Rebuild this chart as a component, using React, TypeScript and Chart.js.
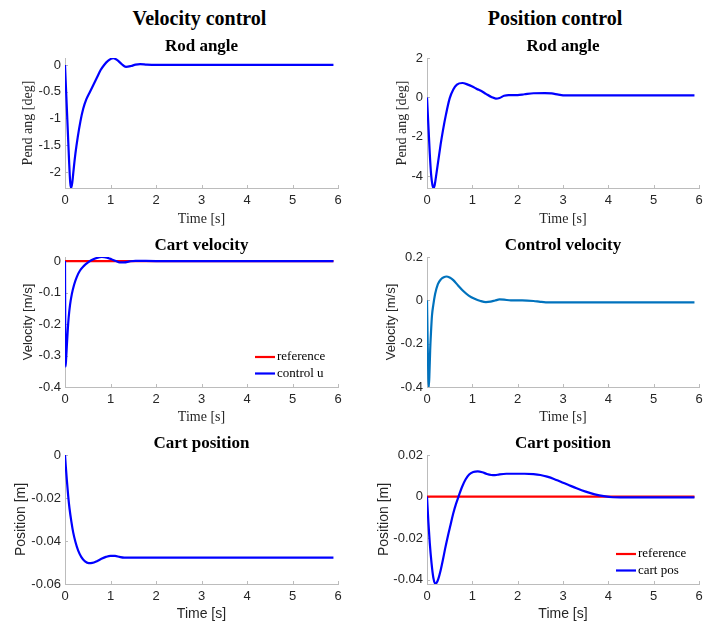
import React, { useEffect, useRef } from 'react';
import { Chart, registerables } from 'chart.js';

Chart.register(...registerables);

// ---------- data ----------
const X_TICKS = [0, 1, 2, 3, 4, 5, 6];
const X_TICK_LABELS = ['0', '1', '2', '3', '4', '5', '6'];

const REF_T = [0, 5.9];
const REF_Y = [0, 0];

// Velocity control - Rod angle [deg]
const rodVelT = [0, 0.03, 0.06, 0.09, 0.115, 0.135, 0.16, 0.19, 0.23, 0.28, 0.34, 0.40, 0.47, 0.55, 0.62, 0.70, 0.78, 0.86, 0.95, 1.06, 1.15, 1.24, 1.34, 1.45, 1.55, 1.65, 1.8, 2.0, 3.0, 4.0, 5.0, 5.9];
const rodVelY = [0, -0.6, -1.2, -1.8, -2.2, -2.3, -2.2, -1.95, -1.65, -1.35, -1.05, -0.82, -0.64, -0.5, -0.38, -0.24, -0.1, 0.0, 0.08, 0.125, 0.09, 0.02, -0.035, -0.02, 0.005, 0.015, 0.005, 0, 0, 0, 0, 0];
const rodVelTicks = [0, -0.5, -1, -1.5, -2];
const rodVelTickLabels = ['0', '-0.5', '-1', '-1.5', '-2'];

// Position control - Rod angle [deg]
const rodPosT = [0, 0.03, 0.06, 0.09, 0.12, 0.145, 0.17, 0.2, 0.25, 0.3, 0.35, 0.42, 0.5, 0.58, 0.66, 0.78, 0.9, 1.0, 1.1, 1.2, 1.3, 1.42, 1.52, 1.6, 1.7, 1.8, 2.0, 2.15, 2.35, 2.6, 2.75, 2.9, 3.05, 3.5, 4.0, 5.0, 5.9];
const rodPosY = [0, -1.4, -2.8, -3.9, -4.45, -4.6, -4.45, -4.0, -3.2, -2.4, -1.7, -0.85, -0.05, 0.4, 0.65, 0.73, 0.65, 0.55, 0.43, 0.32, 0.18, 0.02, -0.06, -0.03, 0.08, 0.12, 0.12, 0.16, 0.21, 0.22, 0.2, 0.14, 0.1, 0.1, 0.1, 0.1, 0.1];
const rodPosTicks = [2, 0, -2, -4];
const rodPosTickLabels = ['2', '0', '-2', '-4'];

// Velocity control - Cart velocity (control u) [m/s]
const cartVelT = [0, 0.005, 0.012, 0.025, 0.04, 0.06, 0.08, 0.11, 0.15, 0.2, 0.26, 0.33, 0.41, 0.5, 0.6, 0.7, 0.81, 0.92, 1.02, 1.12, 1.2, 1.3, 1.42, 1.55, 2.0, 3.0, 4.0, 5.0, 5.9];
const cartVelY = [0, -0.2, -0.335, -0.31, -0.27, -0.22, -0.18, -0.14, -0.105, -0.075, -0.05, -0.03, -0.016, -0.005, 0.004, 0.01, 0.013, 0.011, 0.006, 0.0, -0.004, -0.004, -0.001, 0.001, 0, 0, 0, 0, 0];
const cartVelTicks = [0, -0.1, -0.2, -0.3, -0.4];
const cartVelTickLabels = ['0', '-0.1', '-0.2', '-0.3', '-0.4'];

// Position control - Control velocity [m/s]
const ctrlVelT = [0, 0.015, 0.03, 0.04, 0.055, 0.07, 0.09, 0.11, 0.14, 0.18, 0.24, 0.31, 0.37, 0.43, 0.5, 0.58, 0.68, 0.8, 0.92, 1.05, 1.18, 1.3, 1.4, 1.5, 1.6, 1.7, 1.85, 2.1, 2.35, 2.5, 2.62, 2.8, 3.5, 4.5, 5.9];
const ctrlVelY = [0, -0.2, -0.36, -0.4, -0.33, -0.23, -0.14, -0.07, -0.02, 0.03, 0.075, 0.098, 0.107, 0.11, 0.105, 0.093, 0.07, 0.043, 0.022, 0.007, -0.003, -0.008, -0.006, -0.001, 0.004, 0.003, 0.0, 0.0, -0.003, -0.007, -0.009, -0.009, -0.009, -0.009, -0.009];
const ctrlVelTicks = [0.2, 0, -0.2, -0.4];
const ctrlVelTickLabels = ['0.2', '0', '-0.2', '-0.4'];

// Velocity control - Cart position [m]
const cartPosVT = [0, 0.02, 0.04, 0.07, 0.1, 0.14, 0.18, 0.23, 0.29, 0.36, 0.44, 0.52, 0.6, 0.7, 0.8, 0.9, 1.0, 1.1, 1.2, 1.3, 1.45, 2.0, 3.0, 4.0, 5.0, 5.9];
const cartPosVY = [0, -0.006, -0.0115, -0.019, -0.025, -0.031, -0.036, -0.0405, -0.0445, -0.0475, -0.0495, -0.0503, -0.0502, -0.0494, -0.0483, -0.0474, -0.0469, -0.0469, -0.0474, -0.0477, -0.0477, -0.0477, -0.0477, -0.0477, -0.0477, -0.0477];
const cartPosVTicks = [0, -0.02, -0.04, -0.06];
const cartPosVTickLabels = ['0', '-0.02', '-0.04', '-0.06'];

// Position control - Cart position [m]
const cartPosPT = [0, 0.03, 0.06, 0.1, 0.14, 0.18, 0.21, 0.25, 0.3, 0.35, 0.4, 0.46, 0.52, 0.58, 0.64, 0.7, 0.77, 0.85, 0.93, 1.02, 1.12, 1.22, 1.32, 1.42, 1.5, 1.6, 1.75, 1.95, 2.15, 2.35, 2.5, 2.65, 2.8, 2.95, 3.1, 3.3, 3.5, 3.7, 3.9, 4.1, 4.5, 5.0, 5.9];
const cartPosPY = [0, -0.012, -0.022, -0.032, -0.039, -0.0418, -0.0415, -0.0395, -0.0355, -0.0305, -0.025, -0.019, -0.0135, -0.008, -0.0035, 0.0003, 0.0045, 0.0082, 0.0106, 0.0118, 0.0121, 0.0117, 0.0109, 0.0104, 0.0103, 0.0107, 0.011, 0.011, 0.011, 0.0108, 0.0104, 0.0096, 0.0085, 0.0071, 0.0058, 0.004, 0.0024, 0.0011, 0.0002, -0.0003, -0.0004, -0.0004, -0.0004];
const cartPosPTicks = [0.02, 0, -0.02, -0.04];
const cartPosPTickLabels = ['0.02', '0', '-0.02', '-0.04'];

// ---------- styles ----------
const SERIF = '"Liberation Serif", "Times New Roman", serif';
const SANS = '"Liberation Sans", Arial, sans-serif';
const AXIS = '#bcbcbc';
const TXT = '#262626';
const BLUE = '#0000ff';
const RED = '#ff0000';
const MBLUE = '#0072bd';

type Series = { label: string; t: number[]; y: number[]; color: string; order: number };
type PanelSpec = {
  box: { x: number; y: number; w: number; h: number };
  area: { l: number; t: number; r: number; b: number };
  yMin: number; yMax: number; yTicks: number[]; yTickLabels: string[];
  title: string;
  xTitle: string; xFamily: string; xSize: number; xCenter: number;
  yTitle: string; yFamily: string; ySize: number; yCenter: number;
  series: Series[]; legend: boolean;
};

const COL1 = { x: 0, w: 358, l: 65, r: 338 };
const COL2 = { x: 358, w: 358, l: 427, r: 699 };
const ROW1 = { y: 30, h: 200, t: 58, b: 188, xc: 219 };
const ROW2 = { y: 230, h: 198, t: 257, b: 387, xc: 417 };
const ROW3 = { y: 428, h: 195, t: 455, b: 584, xc: 614 };

function mk(col: any, row: any) {
  return {
    box: { x: col.x, y: row.y, w: col.w, h: row.h },
    area: { l: col.l, t: row.t, r: col.r, b: row.b },
    xCenter: row.xc,
  };
}

const PANELS: PanelSpec[] = [
  {
    ...mk(COL1, ROW1), yMin: -2.3, yMax: 0.13, yTicks: rodVelTicks, yTickLabels: rodVelTickLabels,
    title: 'Rod angle', xTitle: 'Time [s]', xFamily: SERIF, xSize: 14,
    yTitle: 'Pend ang [deg]', yFamily: SERIF, ySize: 14, yCenter: 28,
    series: [{ label: 'rod', t: rodVelT, y: rodVelY, color: BLUE, order: 1 }], legend: false,
  },
  {
    ...mk(COL2, ROW1), yMin: -4.6, yMax: 2, yTicks: rodPosTicks, yTickLabels: rodPosTickLabels,
    title: 'Rod angle', xTitle: 'Time [s]', xFamily: SERIF, xSize: 14,
    yTitle: 'Pend ang [deg]', yFamily: SERIF, ySize: 14, yCenter: 402,
    series: [{ label: 'rod', t: rodPosT, y: rodPosY, color: BLUE, order: 1 }], legend: false,
  },
  {
    ...mk(COL1, ROW2), yMin: -0.4, yMax: 0.013, yTicks: cartVelTicks, yTickLabels: cartVelTickLabels,
    title: 'Cart velocity', xTitle: 'Time [s]', xFamily: SERIF, xSize: 14,
    yTitle: 'Velocity [m/s]', yFamily: SANS, ySize: 13, yCenter: 28,
    series: [
      { label: 'reference', t: REF_T, y: REF_Y, color: RED, order: 2 },
      { label: 'control u', t: cartVelT, y: cartVelY, color: BLUE, order: 1 },
    ], legend: true,
  },
  {
    ...mk(COL2, ROW2), yMin: -0.4, yMax: 0.2, yTicks: ctrlVelTicks, yTickLabels: ctrlVelTickLabels,
    title: 'Control velocity', xTitle: 'Time [s]', xFamily: SERIF, xSize: 14,
    yTitle: 'Velocity [m/s]', yFamily: SANS, ySize: 13, yCenter: 391,
    series: [{ label: 'control', t: ctrlVelT, y: ctrlVelY, color: MBLUE, order: 1 }], legend: false,
  },
  {
    ...mk(COL1, ROW3), yMin: -0.06, yMax: 0, yTicks: cartPosVTicks, yTickLabels: cartPosVTickLabels,
    title: 'Cart position', xTitle: 'Time [s]', xFamily: SANS, xSize: 14,
    yTitle: 'Position [m]', yFamily: SANS, ySize: 14, yCenter: 21,
    series: [{ label: 'cart pos', t: cartPosVT, y: cartPosVY, color: BLUE, order: 1 }], legend: false,
  },
  {
    ...mk(COL2, ROW3), yMin: -0.042, yMax: 0.02, yTicks: cartPosPTicks, yTickLabels: cartPosPTickLabels,
    title: 'Cart position', xTitle: 'Time [s]', xFamily: SANS, xSize: 14,
    yTitle: 'Position [m]', yFamily: SANS, ySize: 14, yCenter: 384,
    series: [
      { label: 'reference', t: REF_T, y: REF_Y, color: RED, order: 2 },
      { label: 'cart pos', t: cartPosPT, y: cartPosPY, color: BLUE, order: 1 },
    ], legend: true,
  },
];

// ---------- plugins ----------
const inwardTicks = {
  id: 'inwardTicks',
  beforeDatasetsDraw(chart: any) {
    const { ctx, chartArea: a, scales } = chart;
    ctx.save();
    ctx.strokeStyle = AXIS;
    ctx.lineWidth = 1;
    ctx.beginPath();
    for (const t of scales.x.ticks) {
      const px = Math.round(scales.x.getPixelForValue(t.value)) + 0.5;
      ctx.moveTo(px, a.bottom);
      ctx.lineTo(px, a.bottom - 3);
    }
    for (const t of scales.y.ticks) {
      const py = Math.round(scales.y.getPixelForValue(t.value)) + 0.5;
      ctx.moveTo(a.left, py);
      ctx.lineTo(a.left + 3, py);
    }
    ctx.stroke();
    ctx.restore();
  },
};

const insideLegend = {
  id: 'insideLegend',
  afterDraw(chart: any, _args: any, opts: any) {
    if (!opts || !opts.display) return;
    const { ctx, chartArea: a } = chart;
    ctx.save();
    ctx.font = `13px ${SERIF}`;
    ctx.textBaseline = 'middle';
    ctx.textAlign = 'left';
    chart.data.datasets.forEach((ds: any, i: number) => {
      const y = a.bottom - 30 + i * 16.5;
      ctx.strokeStyle = ds.borderColor;
      ctx.lineWidth = 2.2;
      ctx.beginPath();
      ctx.moveTo(a.right - 83, y);
      ctx.lineTo(a.right - 63, y);
      ctx.stroke();
      ctx.fillStyle = '#000';
      ctx.fillText(ds.label, a.right - 61, y);
    });
    ctx.restore();
  },
};

function buildConfig(p: PanelSpec): any {
  const lhT = 17 * 1.2;
  const titleCenter = p.area.t - 11;
  const ptTitle = titleCenter - p.box.y - lhT / 2;
  const pbTitle = p.area.t - p.box.y - ptTitle - lhT;
  const yW = p.area.l - p.box.x;
  const xH = p.box.y + p.box.h - p.area.b;
  const xlh = p.xSize * 1.2;
  const xpb = p.box.y + p.box.h - p.xCenter - xlh / 2;
  const ylh = p.ySize * 1.2;
  const ypt = p.yCenter - p.box.x - ylh / 2;
  return {
    type: 'line',
    data: {
      datasets: p.series.map((s) => ({
        label: s.label,
        data: s.t.map((t, i) => ({ x: t, y: s.y[i] })),
        borderColor: s.color,
        backgroundColor: s.color,
        borderWidth: 2.2,
        pointRadius: 0,
        cubicInterpolationMode: 'monotone',
        fill: false,
        order: s.order,
      })),
    },
    options: {
      responsive: false,
      animation: false,
      devicePixelRatio: 1,
      layout: { padding: { left: 0, top: 0, bottom: 0, right: p.box.x + p.box.w - p.area.r } },
      plugins: {
        legend: { display: false },
        tooltip: { enabled: false },
        insideLegend: { display: p.legend },
        title: {
          display: true,
          text: p.title,
          fullSize: false,
          color: '#000',
          font: { family: SERIF, size: 17, weight: 'bold', lineHeight: 1.2 },
          padding: { top: ptTitle, bottom: pbTitle },
        },
      },
      scales: {
        x: {
          type: 'linear',
          bounds: 'data',
          min: 0,
          max: 6,
          afterBuildTicks: (s: any) => { s.ticks = X_TICKS.map((v) => ({ value: v })); },
          afterFit: (s: any) => { s.height = xH; },
          grid: { display: false, drawTicks: false },
          border: { display: true, color: AXIS, width: 1 },
          ticks: {
            padding: 5,
            color: TXT,
            font: { family: SANS, size: 13 },
            maxRotation: 0,
            autoSkip: false,
            callback: (v: any) => { const i = X_TICKS.indexOf(v); return i >= 0 ? X_TICK_LABELS[i] : ''; },
          },
          title: {
            display: true,
            text: p.xTitle,
            color: TXT,
            font: { family: p.xFamily, size: p.xSize, lineHeight: 1.2 },
            padding: { top: 0, bottom: xpb },
          },
        },
        y: {
          type: 'linear',
          bounds: 'data',
          min: p.yMin,
          max: p.yMax,
          afterBuildTicks: (s: any) => { s.ticks = p.yTicks.map((v) => ({ value: v })); },
          afterFit: (s: any) => { s.width = yW; },
          grid: { display: false, drawTicks: false },
          border: { display: true, color: AXIS, width: 1 },
          ticks: {
            padding: 4,
            color: TXT,
            font: { family: SANS, size: 13 },
            autoSkip: false,
            callback: (v: any) => { const i = p.yTicks.indexOf(v); return i >= 0 ? p.yTickLabels[i] : ''; },
          },
          title: {
            display: true,
            text: p.yTitle,
            color: TXT,
            font: { family: p.yFamily, size: p.ySize, lineHeight: 1.2 },
            padding: { top: ypt, bottom: 0 },
          },
        },
      },
    },
    plugins: [inwardTicks, insideLegend],
  };
}

function Panel({ spec }: { spec: PanelSpec }) {
  const ref = useRef<HTMLCanvasElement | null>(null);
  useEffect(() => {
    if (!ref.current) return;
    const chart = new Chart(ref.current, buildConfig(spec));
    return () => chart.destroy();
  }, [spec]);
  return (
    <canvas
      ref={ref}
      width={spec.box.w}
      height={spec.box.h}
      style={{ position: 'absolute', left: spec.box.x, top: spec.box.y, width: spec.box.w, height: spec.box.h }}
    />
  );
}

const headStyle: React.CSSProperties = {
  position: 'absolute',
  top: 8,
  width: 220,
  textAlign: 'center',
  font: `bold 20px ${SERIF}`,
  lineHeight: '20px',
  color: '#000',
  whiteSpace: 'nowrap',
};

export default function App() {
  return (
    <div style={{ position: 'absolute', left: 0, top: 0, width: 716, height: 623, background: '#fff', overflow: 'hidden' }}>
      <div style={{ ...headStyle, left: 199.5 - 110 }}>Velocity control</div>
      <div style={{ ...headStyle, left: 555 - 110 }}>Position control</div>
      {PANELS.map((p, i) => (
        <Panel key={i} spec={p} />
      ))}
    </div>
  );
}
